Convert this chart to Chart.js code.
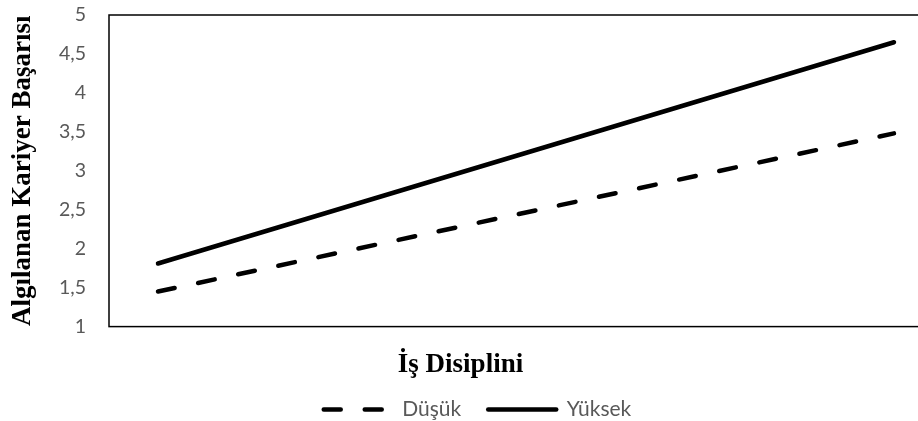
<!DOCTYPE html>
<html>
<head>
<meta charset="utf-8">
<script src="https://cdn.jsdelivr.net/npm/chart.js@4.4.0/dist/chart.umd.min.js"></script>
<style>
  html, body { margin: 0; padding: 0; background: #fff; overflow: hidden; }
  #wrap { width: 926px; height: 430px; }
</style>
</head>
<body>
<div id="wrap"><canvas id="chart"></canvas></div>
<script>
// Veriler
const levels = [1, 2];            // düşük / yüksek İş Disiplini
const dusuk = [1.45, 3.48];
const yuksek = [1.81, 4.65];
const seriesNames = ['Düşük', 'Yüksek'];
const yTicks = [1, 1.5, 2, 2.5, 3, 3.5, 4, 4.5, 5];

const toPoints = vals => levels.map((x, i) => ({ x: x, y: vals[i] }));

// plot box drawn around the chart area
const boxPlugin = {
    id: 'box',
    afterLayout(chart) {
        // legend sits a bit right of center in the original
        chart.legend.left += 17;
        chart.legend.right += 17;
    },
    beforeDatasetsDraw(chart) {
        const { ctx, chartArea: a } = chart;
        ctx.save();
        ctx.strokeStyle = '#000';
        ctx.lineWidth = 1.5;
        ctx.strokeRect(a.left, a.top, a.right - a.left, a.bottom - a.top);
        ctx.restore();
    }
};

const ctx = document.getElementById('chart').getContext('2d');
new Chart(ctx, {
    type: 'line',
    data: {
        datasets: [{
            label: seriesNames[0],
            data: toPoints(dusuk),
            borderColor: '#000',
            backgroundColor: '#000',
            borderWidth: 4.5,
            borderDash: [17, 24],
            borderCapStyle: 'round',
            pointRadius: 0,
            pointStyle: 'line'
        }, {
            label: seriesNames[1],
            data: toPoints(yuksek),
            borderColor: '#000',
            backgroundColor: '#000',
            borderWidth: 4.5,
            borderCapStyle: 'round',
            pointRadius: 0,
            pointStyle: 'line'
        }]
    },
    options: {
        responsive: true,
        maintainAspectRatio: false,
        animation: false,
        layout: {
            padding: { top: 15, right: 5, bottom: 0, left: 0 }
        },
        scales: {
            x: {
                type: 'linear',
                min: 0.9334,
                max: 2.0367,
                grid: { display: false, drawTicks: false },
                border: { display: false },
                ticks: { display: false },
                afterFit: scale => { scale.height = 0; }
            },
            y: {
                min: 1,
                max: 5,
                // hidden tick marks only used as label spacing
                grid: { display: false, drawTicks: true, tickLength: 23 },
                border: { display: false },
                afterFit: scale => { scale.width = 109; },
                afterBuildTicks: scale => { scale.ticks = yTicks.map(v => ({ value: v })); },
                ticks: {
                    padding: 0,
                    color: '#595959',
                    font: { family: 'Lato', size: 19.5 },
                    callback: v => String(v).replace('.', ',')
                },
                title: {
                    display: true,
                    text: 'Algılanan Kariyer Başarısı',
                    color: '#000',
                    font: { family: 'Liberation Serif', size: 27, weight: 'bold' },
                    padding: { top: 7, bottom: 0 }
                }
            }
        },
        plugins: {
            title: {
                display: true,
                position: 'bottom',
                weight: 500,
                text: 'İş Disiplini',
                color: '#000',
                font: { family: 'Liberation Serif', size: 27, weight: 'bold' },
                padding: { top: 22, bottom: -9 }
            },
            legend: {
                position: 'bottom',
                labels: {
                    usePointStyle: true,
                    pointStyleWidth: 68,
                    padding: 27,
                    color: '#595959',
                    font: { family: 'Lato', size: 21 },
                    generateLabels: chart => {
                        const items = Chart.defaults.plugins.legend.labels.generateLabels(chart);
                        return items.map(it => {
                            const ds = chart.data.datasets[it.datasetIndex];
                            return Object.assign(it, {
                                lineWidth: ds.borderWidth,
                                lineDash: ds.borderDash || [],
                                lineCap: 'round',
                                strokeStyle: '#000',
                                fillStyle: '#000',
                                pointStyle: 'line'
                            });
                        });
                    }
                }
            },
            tooltip: { enabled: false }
        }
    },
    plugins: [boxPlugin]
});
</script>
</body>
</html>
